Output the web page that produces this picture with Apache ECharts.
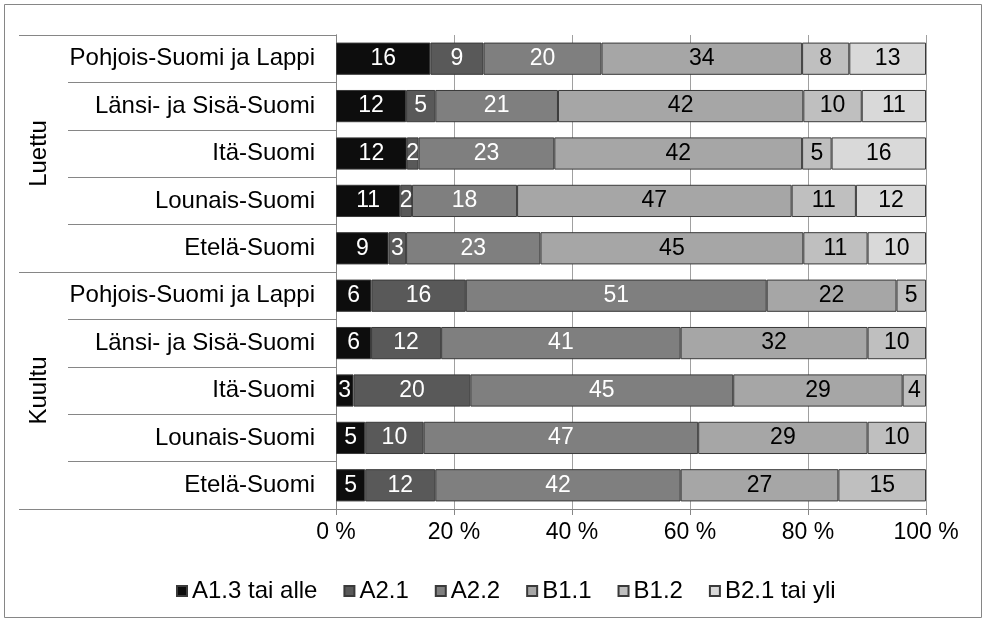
<!DOCTYPE html>
<html><head><meta charset="utf-8">
<script src="https://cdn.jsdelivr.net/npm/echarts@6/dist/echarts.min.js"></script>
<style>html,body{margin:0;padding:0;background:#fff}#c{width:986px;height:622px}</style>
</head><body><div id="c"></div>
<script>
// ---- data ----
const groups = ['Luettu', 'Kuultu'];
const regions = ['Pohjois-Suomi ja Lappi', 'Länsi- ja Sisä-Suomi', 'Itä-Suomi', 'Lounais-Suomi', 'Etelä-Suomi'];
const seriesNames = ['A1.3 tai alle', 'A2.1', 'A2.2', 'B1.1', 'B1.2', 'B2.1 tai yli'];
// values top to bottom: Luettu (5 regions), then Kuultu (5 regions)
const a13 = [16, 12, 12, 11, 9, 6, 6, 3, 5, 5];
const a21 = [9, 5, 2, 2, 3, 16, 12, 20, 10, 12];
const a22 = [20, 21, 23, 18, 23, 51, 41, 45, 47, 42];
const b11 = [34, 42, 42, 47, 45, 22, 32, 29, 29, 27];
const b12 = [8, 10, 5, 11, 11, 5, 10, 4, 10, 15];
const b21 = [13, 11, 16, 12, 10, null, null, null, null, null];
const xTicks = [0, 20, 40, 60, 80, 100];

// ---- build ----
const raw = [a13, a21, a22, b11, b12, b21];
const colors = ['#0d0d0d', '#595959', '#7f7f7f', '#a6a6a6', '#bfbfbf', '#d9d9d9'];
const labelColors = ['#fff', '#fff', '#fff', '#000', '#000', '#000'];
const cats = [];
groups.forEach(g => regions.forEach(r => cats.push(g + '|' + r)));
const rowSum = cats.map((c, i) => raw.reduce((s, arr) => s + (arr[i] || 0), 0));
const FONT = "'Liberation Sans', Arial, sans-serif";
const FS = 23;
const FSL = 24;

const series = seriesNames.map((name, k) => ({
  name: name,
  type: 'bar',
  stack: 'total',
  yAxisIndex: 0,
  barCategoryGap: '32%',
  data: raw[k].map((v, i) => v == null ? null : v / rowSum[i] * 100),
  itemStyle: { color: colors[k], borderColor: '#3a3a3a', borderWidth: 1 },
  label: {
    show: true, position: 'inside', color: labelColors[k],
    fontFamily: FONT, fontSize: FS,
    formatter: p => raw[k][p.dataIndex] == null ? '' : String(raw[k][p.dataIndex])
  },
  emphasis: { disabled: true },
  animation: false
}));

const chart = echarts.init(document.getElementById('c'), null, { renderer: 'canvas' });
chart.setOption({
  animation: false,
  textStyle: { fontFamily: FONT },
  grid: { left: 336, right: 60, top: 35, bottom: 113, containLabel: false },
  graphic: [{
    type: 'rect', silent: true,
    shape: { x: 4.5, y: 4.5, width: 977, height: 613 },
    style: { fill: 'none', stroke: '#868686', lineWidth: 1 }
  }],
  legend: {
    left: 171, top: 574,
    icon: 'rect', itemWidth: 10, itemHeight: 10, itemGap: 26,
    textStyle: { fontFamily: FONT, fontSize: FSL, color: '#000' },
    data: seriesNames
  },
  xAxis: {
    type: 'value', min: 0, max: 100, interval: 20,
    axisLine: { show: true, lineStyle: { color: '#868686', width: 1 } },
    axisTick: { show: true, length: 6, lineStyle: { color: '#868686' } },
    splitLine: { show: true, lineStyle: { color: '#a0a0a0', width: 1 } },
    axisLabel: {
      color: '#000', fontFamily: FONT, fontSize: FS, margin: 12,
      customValues: xTicks,
      formatter: v => v + ' %'
    }
  },
  yAxis: [{
    type: 'category', inverse: true, data: cats,
    axisLine: { show: true, lineStyle: { color: '#868686', width: 1 } },
    axisTick: { show: true, interval: 0, length: 268, lineStyle: { color: '#868686' } },
    axisLabel: {
      interval: 0, color: '#000', fontFamily: FONT, fontSize: FSL, margin: 21,
      formatter: v => v.split('|')[1]
    },
    splitLine: { show: false }
  }, {
    type: 'category', inverse: true, data: groups, position: 'left',
    axisLine: { show: true, lineStyle: { color: '#868686', width: 1 } },
    axisTick: { show: true, interval: 0, length: 317, lineStyle: { color: '#868686' } },
    axisLabel: {
      interval: 0, rotate: 90, color: '#000', fontFamily: FONT, fontSize: FSL, margin: 285
    },
    splitLine: { show: false }
  }],
  series: series
});
</script>
</body></html>
